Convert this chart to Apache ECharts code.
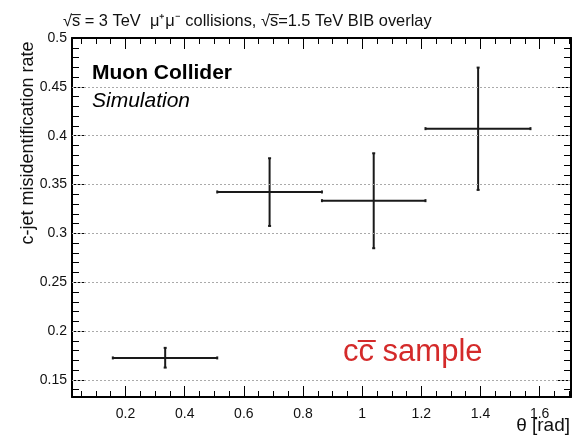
<!DOCTYPE html>
<html>
<head>
<meta charset="utf-8">
<script src="https://cdn.jsdelivr.net/npm/echarts@6/dist/echarts.min.js"></script>
<style>html,body{margin:0;padding:0;background:#fff}#c{width:575px;height:436px}</style>
</head>
<body>
<div id="c"></div>
<script>
const thetaCenter = [0.334, 0.687, 1.039, 1.392];
const thetaLow = [0.157, 0.510, 0.864, 1.214];
const thetaHigh = [0.510, 0.864, 1.214, 1.569];
const rate = [0.1725, 0.3424, 0.3335, 0.4072];
const rateLow = [0.1626, 0.3076, 0.2848, 0.3445];
const rateHigh = [0.1828, 0.3769, 0.3820, 0.4697];

const xMajor = [0.2, 0.4, 0.6, 0.8, 1, 1.2, 1.4, 1.6];
const xMinor = [0.05, 0.1, 0.15, 0.25, 0.3, 0.35, 0.45, 0.5, 0.55, 0.65, 0.7, 0.75, 0.85, 0.9, 0.95, 1.05, 1.1, 1.15, 1.25, 1.3, 1.35, 1.45, 1.5, 1.55, 1.65, 1.7];
const yMajor = [0.15, 0.2, 0.25, 0.3, 0.35, 0.4, 0.45, 0.5];
const yMinor = [0.14, 0.16, 0.17, 0.18, 0.19, 0.21, 0.22, 0.23, 0.24, 0.26, 0.27, 0.28, 0.29, 0.31, 0.32, 0.33, 0.34, 0.36, 0.37, 0.38, 0.39, 0.41, 0.42, 0.43, 0.44, 0.46, 0.47, 0.48, 0.49];

const X_MIN = 0.019, X_MAX = 1.706, Y_MIN = 0.1325, Y_MAX = 0.5;
const FONT = 'Liberation Sans';

const data = thetaCenter.map((x, i) => [x, rate[i], thetaLow[i], thetaHigh[i], rateLow[i], rateHigh[i]]);

function xAxisDef(pos, ticks, len, showLabel, showLine) {
  return {
    type: 'value', position: pos, min: X_MIN, max: X_MAX, offset: 0,
    axisLine: { show: showLine, onZero: false, lineStyle: { color: '#000', width: 2 } },
    axisTick: { show: true, inside: true, length: len, customValues: ticks, lineStyle: { color: '#000', width: 1 } },
    axisLabel: showLabel ? { show: true, customValues: ticks, color: '#111', fontFamily: FONT, fontSize: 14, margin: 10,
      formatter: v => String(+v.toFixed(2)) } : { show: false },
    splitLine: { show: false }
  };
}
function yAxisDef(pos, ticks, len, showLabel, showLine) {
  return {
    type: 'value', position: pos, min: Y_MIN, max: Y_MAX, offset: 0,
    axisLine: { show: showLine, onZero: false, lineStyle: { color: '#000', width: 2 } },
    axisTick: { show: true, inside: true, length: len, customValues: ticks, lineStyle: { color: '#000', width: 1 } },
    axisLabel: showLabel ? { show: true, customValues: ticks, color: '#111', fontFamily: FONT, fontSize: 14, margin: 5,
      formatter: v => String(+v.toFixed(2)) } : { show: false },
    splitLine: { show: false }
  };
}

const chart = echarts.init(document.getElementById('c'), null, { renderer: 'canvas' });
chart.setOption({
  animation: false,
  backgroundColor: '#fff',
  grid: { left: 72, right: 4, top: 38, bottom: 39, containLabel: false },
  xAxis: [
    xAxisDef('bottom', xMajor, 11, true, true),
    xAxisDef('bottom', xMinor, 6, false, false),
    xAxisDef('top', xMajor, 11, false, true),
    xAxisDef('top', xMinor, 6, false, false)
  ],
  yAxis: [
    yAxisDef('left', yMajor, 13, true, true),
    yAxisDef('left', yMinor, 7, false, false),
    yAxisDef('right', yMajor, 13, false, true),
    yAxisDef('right', yMinor, 7, false, false)
  ],
  series: [
    {
      type: 'line', data: [], xAxisIndex: 0, yAxisIndex: 0, silent: true,
      markLine: {
        silent: true, symbol: 'none', label: { show: false },
        lineStyle: { color: '#aaa', type: [2, 2], width: 1 },
        data: yMajor.filter(v => v < Y_MAX).map(v => ({ yAxis: v }))
      }
    },
    {
      type: 'custom', xAxisIndex: 0, yAxisIndex: 0, data: data,
      encode: { x: [0, 2, 3], y: [1, 4, 5] },
      renderItem: function (params, api) {
        const c = api.coord([api.value(0), api.value(1)]);
        const l = api.coord([api.value(2), api.value(1)]);
        const r = api.coord([api.value(3), api.value(1)]);
        const t = api.coord([api.value(0), api.value(5)]);
        const b = api.coord([api.value(0), api.value(4)]);
        const st = { stroke: '#1a1a1a', lineWidth: 2 };
        return {
          type: 'group',
          children: [
            { type: 'line', shape: { x1: l[0], y1: l[1], x2: r[0], y2: r[1] }, style: st },
            { type: 'line', shape: { x1: t[0], y1: t[1], x2: b[0], y2: b[1] }, style: st },
            { type: 'line', shape: { x1: c[0] - 1.5, y1: t[1], x2: c[0] + 1.5, y2: t[1] }, style: st },
            { type: 'line', shape: { x1: c[0] - 1.5, y1: b[1], x2: c[0] + 1.5, y2: b[1] }, style: st },
            { type: 'line', shape: { x1: l[0], y1: l[1] - 1.5, x2: l[0], y2: l[1] + 1.5 }, style: st },
            { type: 'line', shape: { x1: r[0], y1: r[1] - 1.5, x2: r[0], y2: r[1] + 1.5 }, style: st }
          ]
        };
      }
    }
  ],
  graphic: [
    { type: 'text', left: 63, top: 13, style: { text: '\u221As\u0305 = 3 TeV  \u03BC\u207A\u03BC\u207B collisions, \u221As\u0305=1.5 TeV BIB overlay', font: '16.4px "Liberation Sans"', fill: '#111' } },
    { type: 'text', x: 28, y: 143, rotation: Math.PI / 2, style: { text: 'c-jet misidentification rate', font: '18px "Liberation Sans"', fill: '#111', align: 'center', verticalAlign: 'middle' } },
    { type: 'text', x: 570, y: 435, style: { text: '\u03B8 [rad]', font: '19px "Liberation Sans"', fill: '#111', align: 'right', verticalAlign: 'bottom' } },
    { type: 'text', left: 92, top: 63, style: { text: 'Muon Collider', font: 'bold 21px "Liberation Sans"', fill: '#000' } },
    { type: 'text', left: 92, top: 91, style: { text: 'Simulation', font: 'italic 21px "Liberation Sans"', fill: '#000' } },
    { type: 'text', left: 343, top: 337, style: { text: 'cc\u0305 sample', font: '31px "Liberation Sans"', fill: '#d42a2a' } }
  ]
});
</script>
</body>
</html>
